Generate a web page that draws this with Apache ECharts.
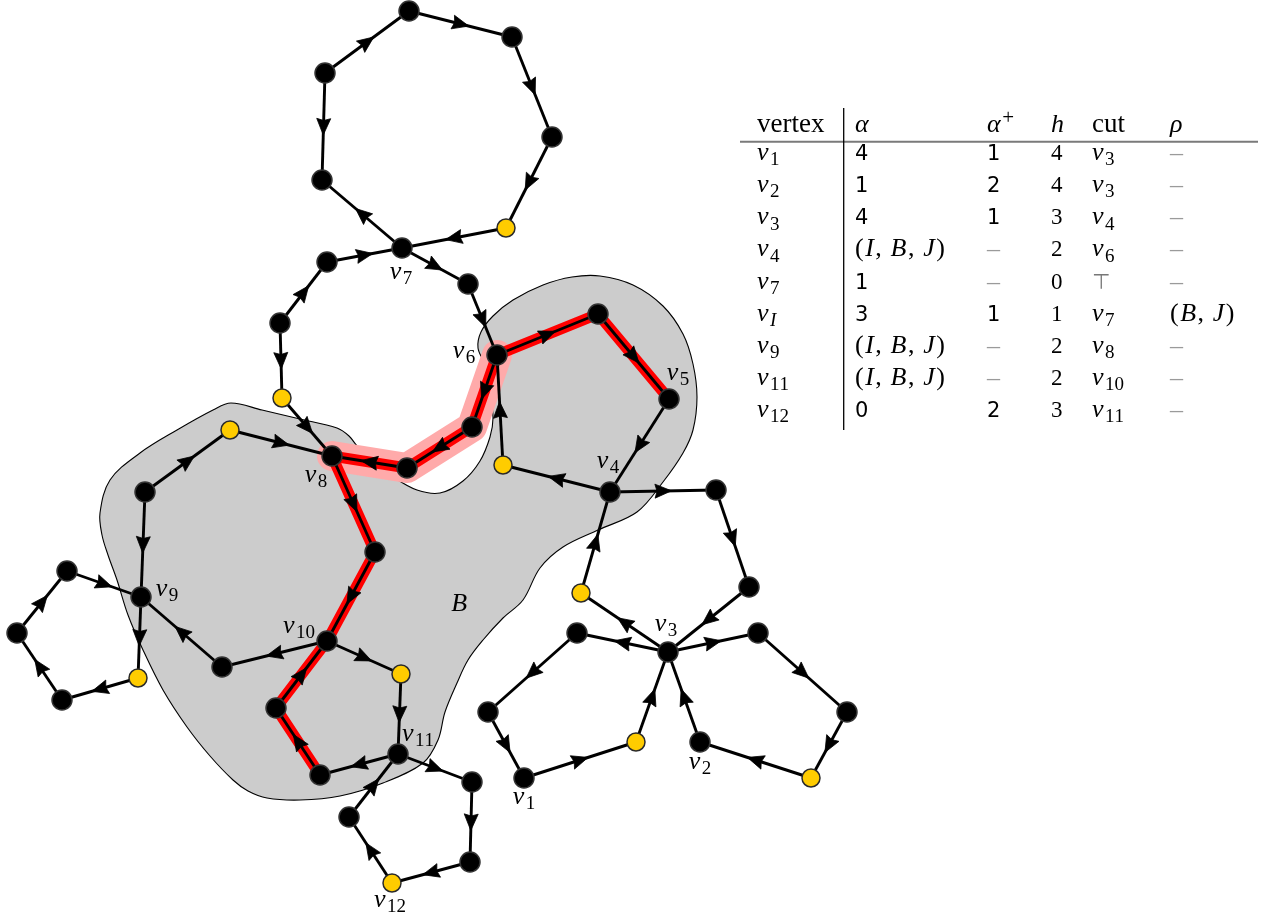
<!DOCTYPE html>
<html>
<head>
<meta charset="utf-8">
<title>Cut tree of a directed graph</title>
<script src="https://cdn.jsdelivr.net/npm/echarts@6/dist/echarts.min.js"></script>
<style>
html,body{margin:0;padding:0;background:#fff;}
#chart{width:1266px;height:921px;}
</style>
</head>
<body>
<div id="chart"></div>
<script>
// ---------------- graph data ----------------
const nodeIds = ['a1','a2','a3','y1','v7','a4','a5','b1','b2','b3','y2','v8','v6','c1','v5','v4','y3','d1','d2','e1','v10','e2','e3','y4','f1','v9','y5','g1','g2','g3','h1','y6','v11','i1','i2','v12','i3','j1','j2','v3','y8','k1','k2','v1','y9','l1','l2','y10','v2'];
const nodeX = [409,512,552,506,402,322,325,327,468,280,282,332,497,598,669,610,503,472,407,375,327,276,320,230,145,141,138,62,17,67,222,401,398,472,470,392,349,716,749,668,581,577,488,524,636,758,847,811,700];
const nodeY = [11,37,137,228,248,180,73,262,284,323,398,456,355,314,399,492,465,427,468,552,641,708,775,430,492,597,678,700,633,571,667,674,754,782,862,883,817,490,587,652,593,633,712,778,742,633,712,778,742];
const yellowNodes = ['y1','y2','y3','y4','y5','y6','v12','y8','y9','y10'];

// directed edges "from>to"
const edges = [
  'a5>a1','a1>a2','a2>a3','a3>y1','y1>v7','v7>a4','a5>a4',
  'b1>v7','v7>b2','b3>b1','b3>y2','y2>v8','b2>v6',
  'v6>c1','c1>v5','v5>v4','v4>y3','y3>v6',
  'v6>d1','d1>d2','d2>v8',
  'v8>e1','e1>v10','e2>v10','e3>e2',
  'y4>v8','f1>y4','f1>v9',
  'v9>y5','y5>g1','g1>g2','g2>g3','g3>v9','h1>v9','v10>h1',
  'v10>y6','y6>v11','v11>e3','v11>i1','i1>i2','i2>v12','v12>i3','i3>v11',
  'v4>j1','j1>j2','j2>v3','v3>y8','y8>v4',
  'v3>k1','k1>k2','k2>v1','v1>y9','y9>v3',
  'v3>l1','l1>l2','l2>y10','y10>v2','v2>v3'
];

// highlighted walk and its halo
const redPath = ['v5','c1','v6','d1','d2','v8','e1','v10','e2','e3'];
const haloPath = ['v6','d1','d2','v8'];

// outline of the block B
const blobX = [231,262,300,337,349,358,377,395,417,440,463,480,490,493,490,485,478,481,493,513,543,572,600,633,663,683,693,697,693,683,663,637,598,563,540,523,503,483,468,457,445,438,423,383,340,300,267,248,233,210,187,163,143,128,117,108,102,100,110,140,177,213];
const blobY = [403,410,419,428,436,447,463,478,490,493,481,461,437,418,390,365,348,332,316,300,285,277,276,285,306,334,364,397,430,453,482,512,530,547,568,600,618,640,660,683,712,740,763,783,796,800,798,791,780,756,727,690,650,615,580,555,535,513,480,453,430,410];
const blockLabel = {text: 'B', x: 460, y: 603};

// vertex names
const labelNodes = ['v1','v2','v3','v4','v5','v6','v7','v8','v9','v10','v11','v12'];
const labelTexts = ['v_1','v_2','v_3','v_4','v_5','v_6','v_7','v_8','v_9','v_{10}','v_{11}','v_{12}'];

// ---------------- table data ----------------
const tableHeader = ['vertex','$α$','$α^+$','$h$','cut','$ρ$'];
const colVertex = ['$v_1$','$v_2$','$v_3$','$v_4$','$v_7$','$v_I$','$v_9$','$v_{11}$','$v_{12}$'];
const colAlpha = ['4','1','4','$(I,B,J)$','1','3','$(I,B,J)$','$(I,B,J)$','0'];
const colAlphaPlus = ['1','2','1','–','–','1','–','–','2'];
const colH = ['4','4','3','2','0','1','2','2','3'];
const colCut = ['$v_3$','$v_3$','$v_4$','$v_6$','⊤','$v_7$','$v_8$','$v_{10}$','$v_{11}$'];
const colRho = ['–','–','–','–','–','$(B,J)$','–','–','–'];

// ---------------- styling ----------------
const SERIF = '"Liberation Serif","DejaVu Serif",serif';
const SANS = '"DejaVu Sans","Liberation Sans",sans-serif';
const EDGE_W = 2.9;

// ---------------- text layout helpers ----------------
const mctx = document.createElement('canvas').getContext('2d');
function measure(font, text) { mctx.font = font; return mctx.measureText(text).width; }
const deltaCache = {};
// distance from the canvas 'middle' line down to the alphabetic baseline
function baseDelta(font) {
  if (deltaCache[font] != null) return deltaCache[font];
  mctx.font = font;
  mctx.textBaseline = 'middle';
  const a = mctx.measureText('x').fontBoundingBoxAscent;
  mctx.textBaseline = 'alphabetic';
  const b = mctx.measureText('x').fontBoundingBoxAscent;
  let d = b - a;
  if (!isFinite(d)) d = 0.3 * parseFloat(font.match(/([\d.]+)px/)[1]);
  deltaCache[font] = d;
  return d;
}
function mathRuns(src, size) {
  const runs = [];
  const small = Math.round(size * 0.72);
  const glyph = (ch, sz, rise) => {
    const italic = /[A-Za-zα-ω]/.test(ch);
    runs.push({text: ch, font: (italic ? 'italic ' : '') + sz + 'px ' + SERIF, rise, kern: sz === size ? 1.5 : 0});
  };
  let i = 0;
  while (i < src.length) {
    const ch = src[i];
    if (ch === '_' || ch === '^') {
      const rise = ch === '_' ? -0.2 * size : 0.28 * size;
      i++;
      let tok;
      if (src[i] === '{') { const e = src.indexOf('}', i); tok = src.slice(i + 1, e); i = e + 1; }
      else { tok = src[i]; i++; }
      for (const c of tok) glyph(c, ch === '^' ? Math.round(size * 0.8) : small, rise);
      continue;
    }
    glyph(ch, size, 0);
    if (ch === ',') runs.push({space: 0.28 * size});
    i++;
  }
  return runs;
}
function layoutRuns(runs, x, baseline, color) {
  const els = [];
  let cx = x;
  for (const r of runs) {
    if (r.space) { cx += r.space; continue; }
    const w = measure(r.font, r.text);
    els.push({
      type: 'text', x: cx, y: baseline - (r.rise || 0) - baseDelta(r.font), silent: true,
      style: {text: r.text, font: r.font, fill: r.color || color || '#000',
              align: 'left', verticalAlign: 'middle', textAlign: 'left', textVerticalAlign: 'middle'}
    });
    cx += w + (r.kern || 0);
  }
  return {els, width: cx - x};
}
function cellRuns(cell, digitFont) {
  if (cell === '–') return [{text: '–', font: '26px ' + SERIF, color: '#9a9a9a', rise: -1}];
  if (cell === '⊤') return [{text: '⊤', font: '21px ' + SANS, color: '#777', rise: 0}];
  if (cell[0] === '$') return mathRuns(cell.slice(1, -1), 26);
  if (/^\d+$/.test(cell)) return [{text: cell, font: digitFont, rise: 0}];
  return [{text: cell, font: '27px ' + SERIF, rise: 0}];
}

// ---------------- derived lookups ----------------
const idx = {};
nodeIds.forEach((id, i) => { idx[id] = i; });
const pt = id => [nodeX[idx[id]], nodeY[idx[id]]];
const edgeData = edges.map(e => { const [a, b] = e.split('>'); return pt(a).concat(pt(b)); });
const nodeData = nodeIds.map((id, i) => {
  const yellow = yellowNodes.indexOf(id) >= 0;
  return {
    value: [nodeX[i], nodeY[i]],
    symbolSize: yellow ? 18 : 20,
    itemStyle: yellow
      ? {color: '#ffcc00', borderColor: '#2a2a2a', borderWidth: 1.5, opacity: 1}
      : {color: '#000', borderColor: '#333', borderWidth: 1.5, opacity: 1}
  };
});

// where each vertex name sits relative to its vertex (centre of the text box)
const labelOffset = {
  v1: [0, 23], v2: [0, 24], v3: [-2, -24], v4: [-2, -27], v5: [9, -22], v6: [-33, 0],
  v7: [-1, 28], v8: [-16, 23], v9: [26, -4], v10: [-28, -11], v11: [20, -16], v12: [-2, 21]
};

// ---------------- table graphic ----------------
const colX = [757, 855, 987, 1051, 1092, 1170];
const headerBase = 131.5, rowBase0 = 160, rowStep = 32.15;
const digitFonts = [null, '21px ' + SANS, '21px ' + SANS, '23px ' + SERIF, null, null];
const columns = [colVertex, colAlpha, colAlphaPlus, colH, colCut, colRho];
const tableEls = [];
tableHeader.forEach((h, c) => {
  tableEls.push(...layoutRuns(cellRuns(h, digitFonts[c]), colX[c], headerBase).els);
});
columns.forEach((col, c) => {
  col.forEach((cell, r) => {
    tableEls.push(...layoutRuns(cellRuns(cell, digitFonts[c]), colX[c], rowBase0 + r * rowStep).els);
  });
});
tableEls.push({type: 'line', shape: {x1: 740, y1: 141.7, x2: 1258, y2: 141.7}, style: {stroke: '#7a7a7a', lineWidth: 2}, silent: true});
tableEls.push({type: 'line', shape: {x1: 843.7, y1: 108, x2: 843.7, y2: 430}, style: {stroke: '#000', lineWidth: 1.3}, silent: true});

// ---------------- chart ----------------
const chart = echarts.init(document.getElementById('chart'), null, {renderer: 'canvas'});
chart.setOption({
  animation: false,
  backgroundColor: '#fff',
  grid: {left: 0, right: 0, top: 0, bottom: 0},
  xAxis: {type: 'value', min: 0, max: 1266, show: false},
  yAxis: {type: 'value', min: 0, max: 921, inverse: true, show: false},
  graphic: {elements: tableEls},
  series: [
    { // block B
      type: 'custom', z: 1, silent: true,
      data: [[0, 0]],
      renderItem(params, api) {
        const pts = blobX.map((x, i) => api.coord([x, blobY[i]]));
        const lp = api.coord([blockLabel.x, blockLabel.y]);
        const lab = layoutRuns(mathRuns(blockLabel.text, 26), 0, 0);
        lab.els.forEach(e => { e.x += lp[0] - lab.width / 2; e.y += lp[1] + 8; });
        return {type: 'group', children: [
          {type: 'polygon', shape: {points: pts, smooth: 0.35}, style: {fill: '#cccccc', stroke: '#000', lineWidth: 1.1}}
        ].concat(lab.els)};
      }
    },
    { // halo around the cut walk
      type: 'line', z: 2, silent: true, symbol: 'none',
      data: haloPath.map(pt),
      lineStyle: {color: '#ffaaaa', width: 30, cap: 'round', join: 'round', opacity: 1}
    },
    { // highlighted walk
      type: 'line', z: 3, silent: true, symbol: 'none',
      data: redPath.map(pt),
      lineStyle: {color: '#ff0000', width: 11, cap: 'butt', join: 'miter', opacity: 1}
    },
    { // directed edges with mid arrows
      type: 'custom', z: 4, silent: true,
      data: edgeData,
      renderItem(params, api) {
        const p1 = api.coord([api.value(0), api.value(1)]);
        const p2 = api.coord([api.value(2), api.value(3)]);
        const dx = p2[0] - p1[0], dy = p2[1] - p1[1];
        const L = Math.hypot(dx, dy), ux = dx / L, uy = dy / L, nx = -uy, ny = ux;
        const mx = (p1[0] + p2[0]) / 2, my = (p1[1] + p2[1]) / 2;
        const tip = [mx + 8.5 * ux, my + 8.5 * uy];
        const bx = mx - 8 * ux, by = my - 8 * uy;
        return {type: 'group', children: [
          {type: 'line', shape: {x1: p1[0], y1: p1[1], x2: p2[0], y2: p2[1]}, style: {stroke: '#000', lineWidth: EDGE_W}},
          {type: 'polygon', shape: {points: [tip, [bx + 7 * nx, by + 7 * ny], [mx - 6 * ux, my - 6 * uy], [bx - 7 * nx, by - 7 * ny]]},
           style: {fill: '#000', stroke: '#000', lineWidth: 0.8, lineJoin: 'miter'}}
        ]};
      }
    },
    { // vertices
      type: 'scatter', z: 5, silent: true, symbol: 'circle',
      itemStyle: {opacity: 1},
      data: nodeData
    },
    { // vertex names
      type: 'custom', z: 6, silent: true,
      data: labelNodes.map((id, k) => pt(id).concat([k])),
      renderItem(params, api) {
        const k = api.value(2);
        const id = labelNodes[k];
        const p = api.coord([api.value(0), api.value(1)]);
        const off = labelOffset[id];
        const lab = layoutRuns(mathRuns(labelTexts[k], 26), 0, 0);
        lab.els.forEach(e => { e.x += p[0] + off[0] - lab.width / 2; e.y += p[1] + off[1] + 3; });
        return {type: 'group', children: lab.els};
      }
    }
  ]
});
</script>
</body>
</html>
